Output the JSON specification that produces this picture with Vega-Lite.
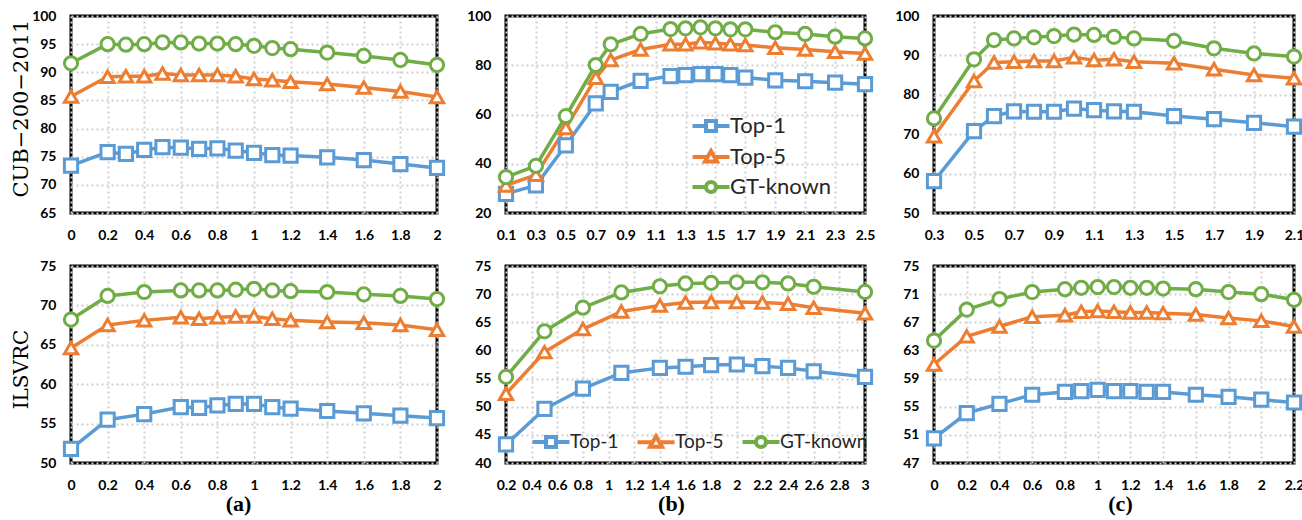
{
  "$schema": "https://vega.github.io/schema/vega-lite/v6.json",
  "padding": {"left": 8, "top": 7, "right": 5, "bottom": 4},
  "background": "white",
  "datasets": {
    "a1": [
      {"x":0,"s":"Top-1","v":73.4},{"x":0.2,"s":"Top-1","v":75.8},{"x":0.3,"s":"Top-1","v":75.5},{"x":0.4,"s":"Top-1","v":76.2},{"x":0.5,"s":"Top-1","v":76.7},{"x":0.6,"s":"Top-1","v":76.6},{"x":0.7,"s":"Top-1","v":76.4},{"x":0.8,"s":"Top-1","v":76.5},{"x":0.9,"s":"Top-1","v":76.1},{"x":1,"s":"Top-1","v":75.7},{"x":1.1,"s":"Top-1","v":75.3},{"x":1.2,"s":"Top-1","v":75.2},{"x":1.4,"s":"Top-1","v":74.9},{"x":1.6,"s":"Top-1","v":74.4},{"x":1.8,"s":"Top-1","v":73.7},{"x":2,"s":"Top-1","v":73.0},
      {"x":0,"s":"Top-5","v":85.7},{"x":0.2,"s":"Top-5","v":89.2},{"x":0.3,"s":"Top-5","v":89.3},{"x":0.4,"s":"Top-5","v":89.3},{"x":0.5,"s":"Top-5","v":89.8},{"x":0.6,"s":"Top-5","v":89.5},{"x":0.7,"s":"Top-5","v":89.5},{"x":0.8,"s":"Top-5","v":89.5},{"x":0.9,"s":"Top-5","v":89.3},{"x":1,"s":"Top-5","v":88.8},{"x":1.1,"s":"Top-5","v":88.6},{"x":1.2,"s":"Top-5","v":88.3},{"x":1.4,"s":"Top-5","v":87.9},{"x":1.6,"s":"Top-5","v":87.3},{"x":1.8,"s":"Top-5","v":86.6},{"x":2,"s":"Top-5","v":85.6},
      {"x":0,"s":"GT-known","v":91.6},{"x":0.2,"s":"GT-known","v":95.0},{"x":0.3,"s":"GT-known","v":94.9},{"x":0.4,"s":"GT-known","v":95.0},{"x":0.5,"s":"GT-known","v":95.3},{"x":0.6,"s":"GT-known","v":95.3},{"x":0.7,"s":"GT-known","v":95.1},{"x":0.8,"s":"GT-known","v":95.1},{"x":0.9,"s":"GT-known","v":95.0},{"x":1,"s":"GT-known","v":94.7},{"x":1.1,"s":"GT-known","v":94.3},{"x":1.2,"s":"GT-known","v":94.1},{"x":1.4,"s":"GT-known","v":93.5},{"x":1.6,"s":"GT-known","v":92.9},{"x":1.8,"s":"GT-known","v":92.2},{"x":2,"s":"GT-known","v":91.3}
    ],
    "b1": [
      {"x":0.1,"s":"Top-1","v":27.8},{"x":0.3,"s":"Top-1","v":31.2},{"x":0.5,"s":"Top-1","v":47.5},{"x":0.7,"s":"Top-1","v":64.5},{"x":0.8,"s":"Top-1","v":69.2},{"x":1.0,"s":"Top-1","v":73.7},{"x":1.2,"s":"Top-1","v":75.6},{"x":1.3,"s":"Top-1","v":76.0},{"x":1.4,"s":"Top-1","v":76.4},{"x":1.5,"s":"Top-1","v":76.4},{"x":1.6,"s":"Top-1","v":76.0},{"x":1.7,"s":"Top-1","v":75.0},{"x":1.9,"s":"Top-1","v":73.9},{"x":2.1,"s":"Top-1","v":73.5},{"x":2.3,"s":"Top-1","v":72.9},{"x":2.5,"s":"Top-1","v":72.3},
      {"x":0.1,"s":"Top-5","v":31.2},{"x":0.3,"s":"Top-5","v":35.5},{"x":0.5,"s":"Top-5","v":54.5},{"x":0.7,"s":"Top-5","v":74.9},{"x":0.8,"s":"Top-5","v":82.1},{"x":1.0,"s":"Top-5","v":86.4},{"x":1.2,"s":"Top-5","v":88.5},{"x":1.3,"s":"Top-5","v":88.5},{"x":1.4,"s":"Top-5","v":89.3},{"x":1.5,"s":"Top-5","v":88.9},{"x":1.6,"s":"Top-5","v":88.5},{"x":1.7,"s":"Top-5","v":88.2},{"x":1.9,"s":"Top-5","v":87.1},{"x":2.1,"s":"Top-5","v":86.4},{"x":2.3,"s":"Top-5","v":85.5},{"x":2.5,"s":"Top-5","v":84.8},
      {"x":0.1,"s":"GT-known","v":34.6},{"x":0.3,"s":"GT-known","v":39.1},{"x":0.5,"s":"GT-known","v":59.3},{"x":0.7,"s":"GT-known","v":80.1},{"x":0.8,"s":"GT-known","v":88.5},{"x":1.0,"s":"GT-known","v":92.7},{"x":1.2,"s":"GT-known","v":94.7},{"x":1.3,"s":"GT-known","v":95.0},{"x":1.4,"s":"GT-known","v":95.4},{"x":1.5,"s":"GT-known","v":95.0},{"x":1.6,"s":"GT-known","v":94.6},{"x":1.7,"s":"GT-known","v":94.6},{"x":1.9,"s":"GT-known","v":93.4},{"x":2.1,"s":"GT-known","v":92.7},{"x":2.3,"s":"GT-known","v":91.6},{"x":2.5,"s":"GT-known","v":90.9}
    ],
    "c1": [
      {"x":0.3,"s":"Top-1","v":58.1},{"x":0.5,"s":"Top-1","v":70.8},{"x":0.6,"s":"Top-1","v":74.6},{"x":0.7,"s":"Top-1","v":75.8},{"x":0.8,"s":"Top-1","v":75.7},{"x":0.9,"s":"Top-1","v":75.7},{"x":1.0,"s":"Top-1","v":76.5},{"x":1.1,"s":"Top-1","v":76.1},{"x":1.2,"s":"Top-1","v":75.8},{"x":1.3,"s":"Top-1","v":75.7},{"x":1.5,"s":"Top-1","v":74.6},{"x":1.7,"s":"Top-1","v":73.8},{"x":1.9,"s":"Top-1","v":72.9},{"x":2.1,"s":"Top-1","v":71.9},
      {"x":0.3,"s":"Top-5","v":69.5},{"x":0.5,"s":"Top-5","v":83.5},{"x":0.6,"s":"Top-5","v":88.2},{"x":0.7,"s":"Top-5","v":88.4},{"x":0.8,"s":"Top-5","v":88.6},{"x":0.9,"s":"Top-5","v":88.6},{"x":1.0,"s":"Top-5","v":89.5},{"x":1.1,"s":"Top-5","v":88.8},{"x":1.2,"s":"Top-5","v":89.0},{"x":1.3,"s":"Top-5","v":88.4},{"x":1.5,"s":"Top-5","v":88.0},{"x":1.7,"s":"Top-5","v":86.5},{"x":1.9,"s":"Top-5","v":85.0},{"x":2.1,"s":"Top-5","v":84.2},
      {"x":0.3,"s":"GT-known","v":74.0},{"x":0.5,"s":"GT-known","v":89.0},{"x":0.6,"s":"GT-known","v":93.9},{"x":0.7,"s":"GT-known","v":94.3},{"x":0.8,"s":"GT-known","v":94.6},{"x":0.9,"s":"GT-known","v":94.9},{"x":1.0,"s":"GT-known","v":95.3},{"x":1.1,"s":"GT-known","v":95.2},{"x":1.2,"s":"GT-known","v":94.7},{"x":1.3,"s":"GT-known","v":94.3},{"x":1.5,"s":"GT-known","v":93.7},{"x":1.7,"s":"GT-known","v":91.8},{"x":1.9,"s":"GT-known","v":90.5},{"x":2.1,"s":"GT-known","v":89.7}
    ],
    "a2": [
      {"x":0,"s":"Top-1","v":51.8},{"x":0.2,"s":"Top-1","v":55.5},{"x":0.4,"s":"Top-1","v":56.2},{"x":0.6,"s":"Top-1","v":57.1},{"x":0.7,"s":"Top-1","v":57.0},{"x":0.8,"s":"Top-1","v":57.3},{"x":0.9,"s":"Top-1","v":57.5},{"x":1,"s":"Top-1","v":57.5},{"x":1.1,"s":"Top-1","v":57.1},{"x":1.2,"s":"Top-1","v":56.9},{"x":1.4,"s":"Top-1","v":56.6},{"x":1.6,"s":"Top-1","v":56.3},{"x":1.8,"s":"Top-1","v":56.0},{"x":2,"s":"Top-1","v":55.7},
      {"x":0,"s":"Top-5","v":64.6},{"x":0.2,"s":"Top-5","v":67.5},{"x":0.4,"s":"Top-5","v":68.1},{"x":0.6,"s":"Top-5","v":68.5},{"x":0.7,"s":"Top-5","v":68.3},{"x":0.8,"s":"Top-5","v":68.5},{"x":0.9,"s":"Top-5","v":68.6},{"x":1,"s":"Top-5","v":68.6},{"x":1.1,"s":"Top-5","v":68.3},{"x":1.2,"s":"Top-5","v":68.1},{"x":1.4,"s":"Top-5","v":67.9},{"x":1.6,"s":"Top-5","v":67.8},{"x":1.8,"s":"Top-5","v":67.5},{"x":2,"s":"Top-5","v":66.9},
      {"x":0,"s":"GT-known","v":68.2},{"x":0.2,"s":"GT-known","v":71.2},{"x":0.4,"s":"GT-known","v":71.7},{"x":0.6,"s":"GT-known","v":71.9},{"x":0.7,"s":"GT-known","v":71.9},{"x":0.8,"s":"GT-known","v":71.9},{"x":0.9,"s":"GT-known","v":72.0},{"x":1,"s":"GT-known","v":72.1},{"x":1.1,"s":"GT-known","v":71.9},{"x":1.2,"s":"GT-known","v":71.8},{"x":1.4,"s":"GT-known","v":71.7},{"x":1.6,"s":"GT-known","v":71.4},{"x":1.8,"s":"GT-known","v":71.2},{"x":2,"s":"GT-known","v":70.8}
    ],
    "b2": [
      {"x":0.2,"s":"Top-1","v":43.3},{"x":0.5,"s":"Top-1","v":49.6},{"x":0.8,"s":"Top-1","v":53.2},{"x":1.1,"s":"Top-1","v":56.0},{"x":1.4,"s":"Top-1","v":56.9},{"x":1.6,"s":"Top-1","v":57.1},{"x":1.8,"s":"Top-1","v":57.4},{"x":2.0,"s":"Top-1","v":57.5},{"x":2.2,"s":"Top-1","v":57.2},{"x":2.4,"s":"Top-1","v":56.9},{"x":2.6,"s":"Top-1","v":56.3},{"x":3.0,"s":"Top-1","v":55.3},
      {"x":0.2,"s":"Top-5","v":52.3},{"x":0.5,"s":"Top-5","v":59.7},{"x":0.8,"s":"Top-5","v":63.8},{"x":1.1,"s":"Top-5","v":66.9},{"x":1.4,"s":"Top-5","v":68.0},{"x":1.6,"s":"Top-5","v":68.5},{"x":1.8,"s":"Top-5","v":68.6},{"x":2.0,"s":"Top-5","v":68.6},{"x":2.2,"s":"Top-5","v":68.5},{"x":2.4,"s":"Top-5","v":68.3},{"x":2.6,"s":"Top-5","v":67.6},{"x":3.0,"s":"Top-5","v":66.6},
      {"x":0.2,"s":"GT-known","v":55.3},{"x":0.5,"s":"GT-known","v":63.4},{"x":0.8,"s":"GT-known","v":67.6},{"x":1.1,"s":"GT-known","v":70.3},{"x":1.4,"s":"GT-known","v":71.4},{"x":1.6,"s":"GT-known","v":71.9},{"x":1.8,"s":"GT-known","v":72.0},{"x":2.0,"s":"GT-known","v":72.1},{"x":2.2,"s":"GT-known","v":72.1},{"x":2.4,"s":"GT-known","v":71.9},{"x":2.6,"s":"GT-known","v":71.3},{"x":3.0,"s":"GT-known","v":70.4}
    ],
    "c2": [
      {"x":0,"s":"Top-1","v":50.5},{"x":0.2,"s":"Top-1","v":54.1},{"x":0.4,"s":"Top-1","v":55.4},{"x":0.6,"s":"Top-1","v":56.7},{"x":0.8,"s":"Top-1","v":57.1},{"x":0.9,"s":"Top-1","v":57.2},{"x":1.0,"s":"Top-1","v":57.4},{"x":1.1,"s":"Top-1","v":57.2},{"x":1.2,"s":"Top-1","v":57.2},{"x":1.3,"s":"Top-1","v":57.1},{"x":1.4,"s":"Top-1","v":57.1},{"x":1.6,"s":"Top-1","v":56.7},{"x":1.8,"s":"Top-1","v":56.4},{"x":2.0,"s":"Top-1","v":56.0},{"x":2.2,"s":"Top-1","v":55.6},
      {"x":0,"s":"Top-5","v":61.0},{"x":0.2,"s":"Top-5","v":65.0},{"x":0.4,"s":"Top-5","v":66.4},{"x":0.6,"s":"Top-5","v":67.8},{"x":0.8,"s":"Top-5","v":68.0},{"x":0.9,"s":"Top-5","v":68.5},{"x":1.0,"s":"Top-5","v":68.6},{"x":1.1,"s":"Top-5","v":68.5},{"x":1.2,"s":"Top-5","v":68.4},{"x":1.3,"s":"Top-5","v":68.4},{"x":1.4,"s":"Top-5","v":68.3},{"x":1.6,"s":"Top-5","v":68.1},{"x":1.8,"s":"Top-5","v":67.6},{"x":2.0,"s":"Top-5","v":67.2},{"x":2.2,"s":"Top-5","v":66.4},
      {"x":0,"s":"GT-known","v":64.4},{"x":0.2,"s":"GT-known","v":68.8},{"x":0.4,"s":"GT-known","v":70.3},{"x":0.6,"s":"GT-known","v":71.3},{"x":0.8,"s":"GT-known","v":71.7},{"x":0.9,"s":"GT-known","v":71.9},{"x":1.0,"s":"GT-known","v":72.0},{"x":1.1,"s":"GT-known","v":72.0},{"x":1.2,"s":"GT-known","v":71.9},{"x":1.3,"s":"GT-known","v":71.9},{"x":1.4,"s":"GT-known","v":71.8},{"x":1.6,"s":"GT-known","v":71.7},{"x":1.8,"s":"GT-known","v":71.3},{"x":2.0,"s":"GT-known","v":71.0},{"x":2.2,"s":"GT-known","v":70.2}
    ]
  },
  "columns": 3,
  "spacing": {"row": 53, "column": 69},
  "bounds": "flush",
  "resolve": {"scale": {"color": "independent", "stroke": "independent", "shape": "independent"}, "legend": {"color": "independent", "stroke": "independent", "shape": "independent"}},
  "concat": [
    {
      "width": 366, "height": 197,
      "data": {"name": "a1"},
      "encoding": {
        "x": {"field": "x", "type": "quantitative", "scale": {"domain": [0, 2], "nice": false, "zero": false}, "axis": {"values": [0,0.2,0.4,0.6,0.8,1,1.2,1.4,1.6,1.8,2], "format": "~g", "title": null}},
        "y": {"field": "v", "type": "quantitative", "scale": {"domain": [65, 100], "nice": false, "zero": false}, "axis": {"values": [65,70,75,80,85,90,95,100], "title": "CUB−200−2011", "titleX": -50, "titleY": 92, "titleBaseline": "middle", "titleAngle": -90, "titleFont": "DejaVu Serif", "titleFontSize": 21, "titleFontWeight": "normal"}}
      },
      "layer": [
        {"mark": {"type": "line", "strokeWidth": 3.5, "strokeJoin": "round", "strokeCap": "round"},
         "encoding": {"color": {"field": "s", "type": "nominal", "scale": {"range": ["#70AD47", "#5B9BD5", "#ED7D31"]}, "legend": null}}},
        {"mark": {"type": "point", "filled": true, "fill": "white", "strokeWidth": 3, "size": 175, "opacity": 1},
         "encoding": {
           "stroke": {"field": "s", "type": "nominal", "scale": {"domain": ["Top-1", "Top-5", "GT-known"], "range": ["#5B9BD5", "#ED7D31", "#70AD47"]}, "legend": null},
           "shape": {"field": "s", "type": "nominal", "scale": {"range": ["circle", "square", "triangle-up"]}, "legend": null}}}
      ]
    },
    {
      "width": 359, "height": 197,
      "data": {"name": "b1"},
      "encoding": {
        "x": {"field": "x", "type": "quantitative", "scale": {"domain": [0.1, 2.5], "nice": false, "zero": false}, "axis": {"values": [0.1,0.3,0.5,0.7,0.9,1.1,1.3,1.5,1.7,1.9,2.1,2.3,2.5], "format": "~g", "title": null}},
        "y": {"field": "v", "type": "quantitative", "scale": {"domain": [20, 100], "nice": false, "zero": false}, "axis": {"values": [20,40,60,80,100], "title": null}}
      },
      "layer": [
        {"mark": {"type": "line", "strokeWidth": 3.5, "strokeJoin": "round", "strokeCap": "round"},
         "encoding": {"color": {"field": "s", "type": "nominal", "scale": {"range": ["#70AD47", "#5B9BD5", "#ED7D31"]}, "legend": null}}},
        {"transform": [{"filter": "datum.s === 'Top-1'"}],
         "mark": {"type": "point", "shape": "square", "filled": true, "fill": "white", "stroke": "#5B9BD5", "strokeWidth": 3, "size": 175, "opacity": 1}},
        {"transform": [{"filter": "datum.s === 'Top-5'"}],
         "mark": {"type": "point", "shape": "triangle-up", "filled": true, "fill": "white", "stroke": "#ED7D31", "strokeWidth": 3, "size": 175, "opacity": 1}},
        {"transform": [{"filter": "datum.s === 'GT-known'"}],
         "mark": {"type": "point", "shape": "circle", "filled": true, "fill": "white", "stroke": "#70AD47", "strokeWidth": 3, "size": 175, "opacity": 1}},
        {"mark": {"type": "point", "filled": true, "fill": "white", "strokeWidth": 4, "size": 175, "opacity": 0},
         "encoding": {
           "stroke": {"field": "s", "type": "nominal", "scale": {"domain": ["Top-1", "Top-5", "GT-known"], "range": ["#5B9BD5", "#ED7D31", "#70AD47"]},
             "legend": {"orient": "none", "legendX": 193, "legendY": 98, "direction": "vertical", "title": null, "labelFontSize": 22, "rowPadding": 4, "labelOffset": 7, "symbolSize": 400, "symbolStrokeWidth": 4, "symbolFillColor": "white", "symbolOpacity": 1}},
           "shape": {"field": "s", "type": "nominal", "scale": {"domain": ["Top-1", "Top-5", "GT-known"], "range": ["M-1.85,0H-0.5M0.5,0H1.85M-0.5,-0.5H0.5V0.5H-0.5Z", "M-1.85,0H-0.34M0.34,0H1.85M0,-0.6L0.6,0.45H-0.6Z", "M-1.85,0H-0.5M0.5,0H1.85M0.5,0A0.5,0.5,0,1,1,-0.5,0A0.5,0.5,0,1,1,0.5,0Z"]},
             "legend": {"orient": "none", "legendX": 193, "legendY": 98, "direction": "vertical", "title": null, "labelFontSize": 22, "rowPadding": 4, "labelOffset": 7, "symbolSize": 400, "symbolStrokeWidth": 4, "symbolFillColor": "white", "symbolOpacity": 1}}}}
      ]
    },
    {
      "width": 360, "height": 197,
      "data": {"name": "c1"},
      "encoding": {
        "x": {"field": "x", "type": "quantitative", "scale": {"domain": [0.3, 2.1], "nice": false, "zero": false}, "axis": {"values": [0.3,0.5,0.7,0.9,1.1,1.3,1.5,1.7,1.9,2.1], "format": "~g", "title": null}},
        "y": {"field": "v", "type": "quantitative", "scale": {"domain": [50, 100], "nice": false, "zero": false}, "axis": {"values": [50,60,70,80,90,100], "title": null}}
      },
      "layer": [
        {"mark": {"type": "line", "strokeWidth": 3.5, "strokeJoin": "round", "strokeCap": "round"},
         "encoding": {"color": {"field": "s", "type": "nominal", "scale": {"range": ["#70AD47", "#5B9BD5", "#ED7D31"]}, "legend": null}}},
        {"mark": {"type": "point", "filled": true, "fill": "white", "strokeWidth": 3, "size": 175, "opacity": 1},
         "encoding": {
           "stroke": {"field": "s", "type": "nominal", "scale": {"domain": ["Top-1", "Top-5", "GT-known"], "range": ["#5B9BD5", "#ED7D31", "#70AD47"]}, "legend": null},
           "shape": {"field": "s", "type": "nominal", "scale": {"range": ["circle", "square", "triangle-up"]}, "legend": null}}}
      ]
    },
    {
      "width": 366, "height": 197,
      "data": {"name": "a2"},
      "encoding": {
        "x": {"field": "x", "type": "quantitative", "scale": {"domain": [0, 2], "nice": false, "zero": false}, "axis": {"values": [0,0.2,0.4,0.6,0.8,1,1.2,1.4,1.6,1.8,2], "format": "~g", "title": "(a)", "titleX": 167, "titleY": 47, "titleBaseline": "alphabetic", "titleAlign": "center", "titleFont": "Liberation Serif", "titleFontWeight": "bold", "titleFontSize": 22}},
        "y": {"field": "v", "type": "quantitative", "scale": {"domain": [50, 75], "nice": false, "zero": false}, "axis": {"values": [50,55,60,65,70,75], "title": "ILSVRC", "titleX": -50, "titleY": 103, "titleBaseline": "middle", "titleAngle": -90, "titleFont": "DejaVu Serif", "titleFontSize": 20, "titleFontWeight": "normal"}}
      },
      "layer": [
        {"mark": {"type": "line", "strokeWidth": 3.5, "strokeJoin": "round", "strokeCap": "round"},
         "encoding": {"color": {"field": "s", "type": "nominal", "scale": {"range": ["#70AD47", "#5B9BD5", "#ED7D31"]}, "legend": null}}},
        {"mark": {"type": "point", "filled": true, "fill": "white", "strokeWidth": 3, "size": 175, "opacity": 1},
         "encoding": {
           "stroke": {"field": "s", "type": "nominal", "scale": {"domain": ["Top-1", "Top-5", "GT-known"], "range": ["#5B9BD5", "#ED7D31", "#70AD47"]}, "legend": null},
           "shape": {"field": "s", "type": "nominal", "scale": {"range": ["circle", "square", "triangle-up"]}, "legend": null}}}
      ]
    },
    {
      "width": 359, "height": 197,
      "data": {"name": "b2"},
      "encoding": {
        "x": {"field": "x", "type": "quantitative", "scale": {"domain": [0.2, 3], "nice": false, "zero": false}, "axis": {"values": [0.2,0.4,0.6,0.8,1,1.2,1.4,1.6,1.8,2,2.2,2.4,2.6,2.8,3], "format": "~g", "title": "(b)", "titleX": 165, "titleY": 47, "titleBaseline": "alphabetic", "titleAlign": "center", "titleFont": "Liberation Serif", "titleFontWeight": "bold", "titleFontSize": 22}},
        "y": {"field": "v", "type": "quantitative", "scale": {"domain": [40, 75], "nice": false, "zero": false}, "axis": {"values": [40,45,50,55,60,65,70,75], "title": null}}
      },
      "layer": [
        {"mark": {"type": "line", "strokeWidth": 3.5, "strokeJoin": "round", "strokeCap": "round"},
         "encoding": {"color": {"field": "s", "type": "nominal", "scale": {"range": ["#70AD47", "#5B9BD5", "#ED7D31"]}, "legend": null}}},
        {"transform": [{"filter": "datum.s === 'Top-1'"}],
         "mark": {"type": "point", "shape": "square", "filled": true, "fill": "white", "stroke": "#5B9BD5", "strokeWidth": 3, "size": 175, "opacity": 1}},
        {"transform": [{"filter": "datum.s === 'Top-5'"}],
         "mark": {"type": "point", "shape": "triangle-up", "filled": true, "fill": "white", "stroke": "#ED7D31", "strokeWidth": 3, "size": 175, "opacity": 1}},
        {"transform": [{"filter": "datum.s === 'GT-known'"}],
         "mark": {"type": "point", "shape": "circle", "filled": true, "fill": "white", "stroke": "#70AD47", "strokeWidth": 3, "size": 175, "opacity": 1}},
        {"mark": {"type": "point", "filled": true, "fill": "white", "strokeWidth": 4, "size": 175, "opacity": 0},
         "encoding": {
           "stroke": {"field": "s", "type": "nominal", "scale": {"domain": ["Top-1", "Top-5", "GT-known"], "range": ["#5B9BD5", "#ED7D31", "#70AD47"]},
             "legend": {"orient": "none", "legendX": 33, "legendY": 164, "direction": "horizontal", "title": null, "labelFontSize": 19, "columnPadding": 10, "labelOffset": 7, "symbolSize": 400, "symbolStrokeWidth": 4, "symbolFillColor": "white", "symbolOpacity": 1}},
           "shape": {"field": "s", "type": "nominal", "scale": {"domain": ["Top-1", "Top-5", "GT-known"], "range": ["M-1.85,0H-0.5M0.5,0H1.85M-0.5,-0.5H0.5V0.5H-0.5Z", "M-1.85,0H-0.34M0.34,0H1.85M0,-0.6L0.6,0.45H-0.6Z", "M-1.85,0H-0.5M0.5,0H1.85M0.5,0A0.5,0.5,0,1,1,-0.5,0A0.5,0.5,0,1,1,0.5,0Z"]},
             "legend": {"orient": "none", "legendX": 33, "legendY": 164, "direction": "horizontal", "title": null, "labelFontSize": 19, "columnPadding": 10, "labelOffset": 7, "symbolSize": 400, "symbolStrokeWidth": 4, "symbolFillColor": "white", "symbolOpacity": 1}}}}
      ]
    },
    {
      "width": 360, "height": 197,
      "data": {"name": "c2"},
      "encoding": {
        "x": {"field": "x", "type": "quantitative", "scale": {"domain": [0, 2.2], "nice": false, "zero": false}, "axis": {"values": [0,0.2,0.4,0.6,0.8,1,1.2,1.4,1.6,1.8,2,2.2], "format": "~g", "title": "(c)", "titleX": 186, "titleY": 47, "titleBaseline": "alphabetic", "titleAlign": "center", "titleFont": "Liberation Serif", "titleFontWeight": "bold", "titleFontSize": 22}},
        "y": {"field": "v", "type": "quantitative", "scale": {"domain": [47, 75], "nice": false, "zero": false}, "axis": {"values": [47,51,55,59,63,67,71,75], "title": null}}
      },
      "layer": [
        {"mark": {"type": "line", "strokeWidth": 3.5, "strokeJoin": "round", "strokeCap": "round"},
         "encoding": {"color": {"field": "s", "type": "nominal", "scale": {"range": ["#70AD47", "#5B9BD5", "#ED7D31"]}, "legend": null}}},
        {"mark": {"type": "point", "filled": true, "fill": "white", "strokeWidth": 3, "size": 175, "opacity": 1},
         "encoding": {
           "stroke": {"field": "s", "type": "nominal", "scale": {"domain": ["Top-1", "Top-5", "GT-known"], "range": ["#5B9BD5", "#ED7D31", "#70AD47"]}, "legend": null},
           "shape": {"field": "s", "type": "nominal", "scale": {"range": ["circle", "square", "triangle-up"]}, "legend": null}}}
      ]
    }
  ],
  "config": {
    "view": {"stroke": "black", "strokeWidth": 3},
    "axis": {"labelFont": "Lato", "labelFontWeight": "bold", "labelFontSize": 14, "labelColor": "#000000", "domain": false, "ticks": false, "tickSize": 0, "grid": true, "gridColor": "#d0d0d0", "gridDash": [2, 3], "gridWidth": 2, "labelFlush": false, "labelOverlap": false, "titleColor": "#000000"},
    "axisX": {"labelPadding": 15},
    "axisY": {"labelPadding": 15},
    "legend": {"labelFont": "Lato", "labelColor": "#262626", "padding": 0}
  }
}
